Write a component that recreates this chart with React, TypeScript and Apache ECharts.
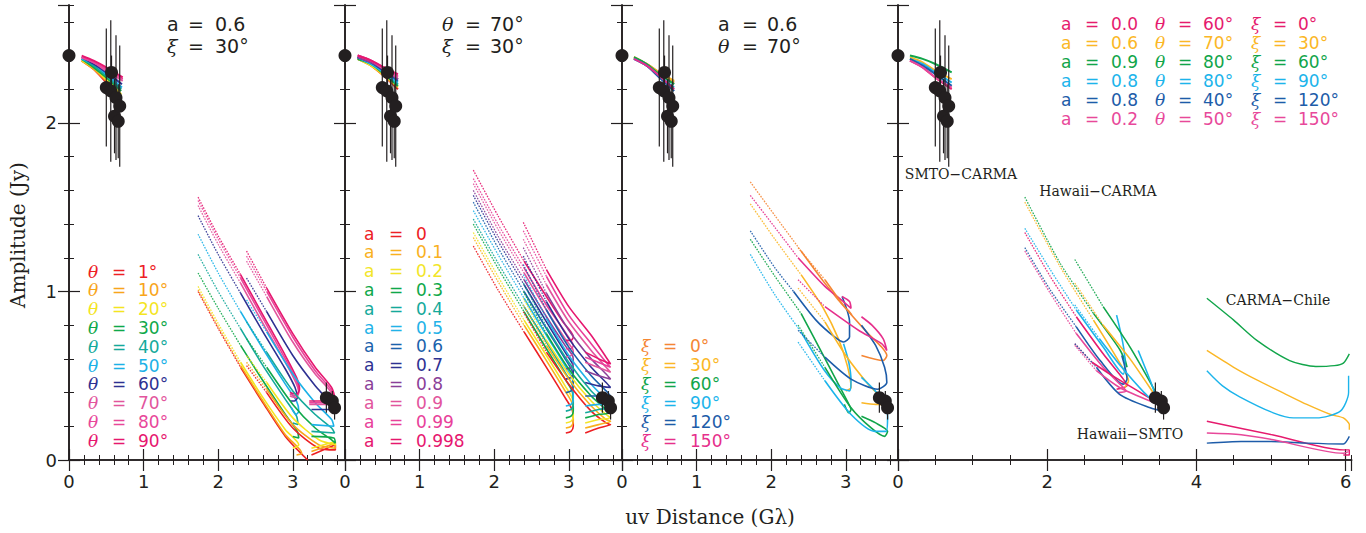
import React, { useEffect, useRef } from "react";
import * as echarts from "echarts";

type Pt = [number, number];

// ---------- observations ----------
const uvObs = [0.0, 0.5, 0.56, 0.57, 0.61, 0.63, 0.66, 0.68, 3.45, 3.53, 3.56];
const ampObs = [2.4, 2.21, 2.19, 2.3, 2.04, 2.15, 2.01, 2.1, 0.37, 0.35, 0.31];
const errObs = [0.0, 0.35, 0.42, 0.1, 0.22, 0.37, 0.22, 0.36, 0.09, 0.06, 0.07];

// ---------- panel 1 : theta series ----------
const thetaLabels = ["1°", "10°", "20°", "30°", "40°", "50°", "60°", "70°", "80°", "90°"];
const colors1 = ["#ed2024", "#f8a51b", "#f4e51f", "#0fa84a", "#15a99b", "#1bb1e7", "#2e3192", "#e2559d", "#e8479a", "#e6176f"];
const short1: Pt[][] = [
  [[0.17, 2.37], [0.33, 2.32], [0.5, 2.24], [0.7, 2.15]],
  [[0.17, 2.37], [0.33, 2.32], [0.5, 2.25], [0.7, 2.16]],
  [[0.17, 2.37], [0.33, 2.33], [0.5, 2.26], [0.7, 2.17]],
  [[0.17, 2.38], [0.33, 2.33], [0.5, 2.27], [0.7, 2.19]],
  [[0.17, 2.38], [0.33, 2.34], [0.5, 2.28], [0.7, 2.2]],
  [[0.17, 2.38], [0.33, 2.35], [0.5, 2.29], [0.71, 2.21]],
  [[0.17, 2.39], [0.33, 2.35], [0.5, 2.3], [0.71, 2.23]],
  [[0.17, 2.39], [0.33, 2.36], [0.5, 2.31], [0.72, 2.25]],
  [[0.17, 2.39], [0.33, 2.36], [0.5, 2.32], [0.72, 2.26]],
  [[0.17, 2.4], [0.33, 2.37], [0.5, 2.33], [0.72, 2.27]],
];
const hcDot1: Pt[][] = [
  [[1.73, 1.0], [2.0, 0.78], [2.3, 0.55]],
  [[1.73, 1.01], [2.0, 0.79], [2.3, 0.56]],
  [[1.73, 1.03], [2.0, 0.81], [2.3, 0.58]],
  [[1.73, 1.11], [2.0, 0.9], [2.3, 0.68]],
  [[1.73, 1.22], [2.0, 1.0], [2.3, 0.78]],
  [[1.73, 1.34], [2.0, 1.11], [2.3, 0.88]],
  [[1.73, 1.45], [2.0, 1.22], [2.3, 0.99]],
  [[1.73, 1.51], [2.0, 1.28], [2.3, 1.05]],
  [[1.73, 1.54], [2.0, 1.31], [2.3, 1.08]],
  [[1.73, 1.56], [2.0, 1.33], [2.3, 1.1]],
];
const hcSol1: Pt[][] = [
  [[2.3, 0.55], [2.6, 0.34], [2.9, 0.14], [3.2, 0.0]],
  [[2.3, 0.56], [2.6, 0.35], [2.9, 0.15], [3.12, 0.04], [3.05, 0.03]],
  [[2.3, 0.58], [2.6, 0.37], [2.9, 0.18], [3.08, 0.09], [3.0, 0.07]],
  [[2.3, 0.68], [2.6, 0.47], [2.9, 0.27], [3.06, 0.17], [3.08, 0.13], [3.0, 0.14]],
  [[2.3, 0.78], [2.6, 0.56], [2.9, 0.36], [3.05, 0.26], [3.07, 0.21], [3.0, 0.22]],
  [[2.3, 0.88], [2.6, 0.66], [2.9, 0.45], [3.05, 0.35], [3.08, 0.29], [3.04, 0.27], [2.98, 0.31]],
  [[2.3, 0.99], [2.6, 0.76], [2.9, 0.54], [3.03, 0.43], [3.06, 0.37], [3.02, 0.35], [2.96, 0.35]],
  [[2.3, 1.05], [2.6, 0.81], [2.9, 0.58], [3.04, 0.46], [3.08, 0.4], [3.04, 0.37], [2.96, 0.38]],
  [[2.3, 1.08], [2.6, 0.84], [2.9, 0.6], [3.04, 0.48], [3.08, 0.41], [3.04, 0.38], [2.96, 0.39]],
  [[2.3, 1.1], [2.6, 0.86], [2.9, 0.62], [3.05, 0.49], [3.09, 0.42], [3.05, 0.39], [2.96, 0.4]],
];
const hsDot1: Pt[][] = [
  [[2.38, 0.56], [2.65, 0.4]],
  [[2.38, 0.58], [2.65, 0.42]],
  [[2.38, 0.62], [2.65, 0.46]],
  [[2.38, 0.72], [2.65, 0.55]],
  [[2.38, 0.82], [2.65, 0.64]],
  [[2.38, 0.95], [2.65, 0.76]],
  [[2.38, 1.08], [2.65, 0.88]],
  [[2.38, 1.18], [2.65, 0.97]],
  [[2.38, 1.21], [2.65, 1.0]],
  [[2.38, 1.24], [2.65, 1.02]],
];
const hsSol1: Pt[][] = [
  [[2.65, 0.4], [3.0, 0.19], [3.35, 0.07], [3.57, 0.06], [3.57, 0.09], [3.25, 0.03]],
  [[2.65, 0.42], [3.0, 0.21], [3.35, 0.09], [3.57, 0.07], [3.57, 0.1], [3.25, 0.05]],
  [[2.65, 0.46], [3.0, 0.25], [3.35, 0.12], [3.57, 0.09], [3.57, 0.11], [3.25, 0.07]],
  [[2.65, 0.55], [3.0, 0.33], [3.3, 0.19], [3.52, 0.12], [3.57, 0.1], [3.55, 0.13], [3.25, 0.14]],
  [[2.65, 0.64], [3.0, 0.41], [3.3, 0.27], [3.52, 0.19], [3.56, 0.16], [3.25, 0.17]],
  [[2.65, 0.76], [3.0, 0.51], [3.3, 0.34], [3.52, 0.24], [3.55, 0.2], [3.25, 0.21]],
  [[2.65, 0.88], [3.0, 0.62], [3.3, 0.44], [3.48, 0.35], [3.52, 0.3], [3.25, 0.3]],
  [[2.65, 0.97], [3.0, 0.7], [3.3, 0.51], [3.5, 0.41], [3.54, 0.35], [3.5, 0.33], [3.22, 0.33]],
  [[2.65, 1.0], [3.0, 0.73], [3.3, 0.53], [3.51, 0.42], [3.55, 0.36], [3.5, 0.34], [3.22, 0.34]],
  [[2.65, 1.02], [3.0, 0.75], [3.3, 0.55], [3.52, 0.43], [3.56, 0.37], [3.5, 0.35], [3.22, 0.35]],
];

// ---------- panel 2 : spin series ----------
const spinLabels = ["0", "0.1", "0.2", "0.3", "0.4", "0.5", "0.6", "0.7", "0.8", "0.9", "0.99", "0.998"];
const colors2 = ["#ed2024", "#f9b11f", "#f2e52a", "#0fa84a", "#15a99b", "#22b2e8", "#1b62ac", "#2e3192", "#8b3f98", "#e2559d", "#e8419a", "#e6176f"];
const short2: Pt[][] = [
  [[0.17, 2.38], [0.35, 2.34], [0.52, 2.28], [0.71, 2.2]],
  [[0.17, 2.38], [0.35, 2.34], [0.52, 2.28], [0.71, 2.21]],
  [[0.17, 2.38], [0.35, 2.34], [0.52, 2.29], [0.71, 2.22]],
  [[0.17, 2.38], [0.35, 2.35], [0.52, 2.29], [0.71, 2.22]],
  [[0.17, 2.39], [0.35, 2.35], [0.52, 2.3], [0.71, 2.23]],
  [[0.17, 2.39], [0.35, 2.35], [0.52, 2.3], [0.71, 2.24]],
  [[0.17, 2.39], [0.35, 2.36], [0.52, 2.31], [0.71, 2.25]],
  [[0.17, 2.39], [0.35, 2.36], [0.52, 2.31], [0.71, 2.26]],
  [[0.17, 2.39], [0.35, 2.36], [0.52, 2.32], [0.71, 2.26]],
  [[0.17, 2.4], [0.35, 2.37], [0.52, 2.32], [0.71, 2.27]],
  [[0.17, 2.4], [0.35, 2.37], [0.52, 2.33], [0.71, 2.28]],
  [[0.17, 2.4], [0.35, 2.37], [0.52, 2.33], [0.71, 2.29]],
];
const hcDot2: Pt[][] = [
  [[1.72, 1.27], [2.05, 1.01], [2.4, 0.76]],
  [[1.72, 1.32], [2.05, 1.06], [2.4, 0.8]],
  [[1.72, 1.35], [2.05, 1.09], [2.4, 0.83]],
  [[1.72, 1.4], [2.05, 1.14], [2.4, 0.88]],
  [[1.72, 1.43], [2.05, 1.17], [2.4, 0.91]],
  [[1.72, 1.48], [2.05, 1.22], [2.4, 0.96]],
  [[1.72, 1.53], [2.05, 1.26], [2.4, 1.0]],
  [[1.72, 1.57], [2.05, 1.3], [2.4, 1.04]],
  [[1.72, 1.6], [2.05, 1.33], [2.4, 1.07]],
  [[1.72, 1.64], [2.05, 1.37], [2.4, 1.11]],
  [[1.72, 1.67], [2.05, 1.4], [2.4, 1.14]],
  [[1.72, 1.72], [2.05, 1.45], [2.4, 1.18]],
];
const hcSol2: Pt[][] = [
  [[2.4, 0.76], [2.7, 0.55], [2.95, 0.37], [3.05, 0.29], [3.06, 0.2], [3.03, 0.17], [2.96, 0.16]],
  [[2.4, 0.8], [2.7, 0.59], [2.95, 0.41], [3.05, 0.33], [3.06, 0.23], [3.03, 0.2], [2.96, 0.19]],
  [[2.4, 0.83], [2.7, 0.62], [2.95, 0.44], [3.05, 0.36], [3.06, 0.26], [3.03, 0.23], [2.96, 0.22]],
  [[2.4, 0.88], [2.7, 0.66], [2.95, 0.48], [3.05, 0.4], [3.06, 0.29], [3.03, 0.26], [2.96, 0.25]],
  [[2.4, 0.91], [2.7, 0.7], [2.95, 0.52], [3.05, 0.44], [3.06, 0.33], [3.03, 0.3], [2.96, 0.29]],
  [[2.4, 0.96], [2.7, 0.74], [2.95, 0.56], [3.05, 0.48], [3.06, 0.36], [3.03, 0.33], [2.96, 0.32]],
  [[2.4, 1.0], [2.7, 0.78], [2.95, 0.6], [3.05, 0.52], [3.06, 0.44], [3.03, 0.41], [2.96, 0.4]],
  [[2.4, 1.04], [2.7, 0.82], [2.95, 0.64], [3.05, 0.57], [3.06, 0.52], [3.03, 0.49], [2.96, 0.48]],
  [[2.4, 1.07], [2.7, 0.85], [2.95, 0.68], [3.05, 0.62], [3.06, 0.58], [3.03, 0.55], [2.96, 0.54]],
  [[2.4, 1.11], [2.7, 0.89], [2.95, 0.72], [3.05, 0.66], [3.06, 0.64], [3.03, 0.62], [2.96, 0.61]],
  [[2.4, 1.14], [2.7, 0.92], [2.95, 0.76], [3.04, 0.7], [3.06, 0.68], [3.03, 0.66], [2.96, 0.66]],
  [[2.4, 1.18], [2.7, 0.97], [2.92, 0.82], [3.03, 0.76], [3.06, 0.73], [3.03, 0.71], [2.96, 0.71]],
];
const hsDot2: Pt[][] = [
  [[2.39, 0.88], [2.7, 0.64]],
  [[2.39, 0.92], [2.7, 0.68]],
  [[2.39, 0.96], [2.7, 0.71]],
  [[2.39, 1.0], [2.7, 0.75]],
  [[2.39, 1.05], [2.7, 0.79]],
  [[2.39, 1.1], [2.7, 0.84]],
  [[2.39, 1.16], [2.7, 0.89]],
  [[2.39, 1.21], [2.7, 0.94]],
  [[2.39, 1.26], [2.7, 0.99]],
  [[2.39, 1.31], [2.7, 1.04]],
  [[2.39, 1.36], [2.7, 1.09]],
  [[2.39, 1.41], [2.7, 1.13]],
];
const hsSol2: Pt[][] = [
  [[2.7, 0.64], [3.0, 0.45], [3.3, 0.29], [3.5, 0.22], [3.56, 0.21], [3.4, 0.19], [3.22, 0.16]],
  [[2.7, 0.68], [3.0, 0.48], [3.3, 0.32], [3.5, 0.24], [3.56, 0.23], [3.4, 0.21], [3.22, 0.19]],
  [[2.7, 0.71], [3.0, 0.51], [3.3, 0.35], [3.5, 0.27], [3.56, 0.25], [3.4, 0.24], [3.22, 0.22]],
  [[2.7, 0.75], [3.0, 0.54], [3.3, 0.38], [3.5, 0.3], [3.56, 0.28], [3.4, 0.27], [3.22, 0.25]],
  [[2.7, 0.79], [3.0, 0.58], [3.3, 0.41], [3.5, 0.33], [3.56, 0.31], [3.4, 0.3], [3.22, 0.28]],
  [[2.7, 0.84], [3.0, 0.62], [3.3, 0.45], [3.5, 0.36], [3.56, 0.33], [3.4, 0.33], [3.22, 0.32]],
  [[2.7, 0.89], [3.0, 0.67], [3.3, 0.5], [3.5, 0.41], [3.56, 0.38], [3.4, 0.38], [3.22, 0.38]],
  [[2.7, 0.94], [3.0, 0.72], [3.3, 0.55], [3.5, 0.46], [3.56, 0.43], [3.4, 0.44], [3.22, 0.46]],
  [[2.7, 0.99], [3.0, 0.77], [3.3, 0.6], [3.5, 0.51], [3.56, 0.48], [3.4, 0.5], [3.22, 0.53]],
  [[2.7, 1.04], [3.0, 0.82], [3.3, 0.65], [3.5, 0.55], [3.56, 0.52], [3.45, 0.54], [3.22, 0.58]],
  [[2.7, 1.09], [3.0, 0.86], [3.3, 0.69], [3.5, 0.58], [3.56, 0.55], [3.45, 0.57], [3.22, 0.61]],
  [[2.7, 1.13], [3.0, 0.91], [3.3, 0.74], [3.5, 0.61], [3.56, 0.57], [3.45, 0.59], [3.22, 0.64]],
];

// ---------- panel 3 : position-angle series ----------
const xiLabels = ["0°", "30°", "60°", "90°", "120°", "150°"];
const colors3 = ["#f58634", "#fbb726", "#11a54a", "#1cb4eb", "#1d5ca9", "#e6308c"];
const short3: Pt[][] = [
  [[0.16, 2.39], [0.33, 2.35], [0.5, 2.3], [0.7, 2.24]],
  [[0.16, 2.39], [0.33, 2.35], [0.5, 2.3], [0.7, 2.25]],
  [[0.16, 2.39], [0.33, 2.35], [0.5, 2.29], [0.7, 2.23]],
  [[0.16, 2.38], [0.33, 2.34], [0.5, 2.28], [0.7, 2.21]],
  [[0.16, 2.38], [0.33, 2.34], [0.5, 2.27], [0.7, 2.19]],
  [[0.16, 2.38], [0.33, 2.34], [0.5, 2.28], [0.7, 2.2]],
];
const hcDot3: Pt[][] = [
  [[1.72, 1.65], [2.05, 1.45], [2.4, 1.24]],
  [[1.72, 1.52], [2.05, 1.31], [2.4, 1.1]],
  [[1.72, 1.31], [2.05, 1.09], [2.4, 0.87]],
  [[1.72, 1.22], [2.05, 0.98], [2.4, 0.76]],
  [[1.72, 1.36], [2.05, 1.14], [2.3, 1.0]],
  [[1.72, 1.57], [2.05, 1.38], [2.36, 1.2]],
];
const hcSol3: Pt[][] = [
  [[2.4, 1.24], [2.7, 1.06], [2.9, 0.95], [3.04, 0.88], [3.08, 0.86], [3.03, 0.89]],
  [[2.4, 1.1], [2.7, 0.9], [2.9, 0.72], [3.02, 0.56], [3.07, 0.43], [3.0, 0.41]],
  [[2.4, 0.87], [2.7, 0.62], [2.9, 0.45], [3.03, 0.34], [3.07, 0.3], [3.04, 0.28], [2.98, 0.33]],
  [[2.4, 0.76], [2.7, 0.54], [2.92, 0.43], [3.05, 0.41], [3.07, 0.47], [3.04, 0.58], [2.97, 0.69]],
  [[2.3, 1.0], [2.6, 0.83], [2.85, 0.73], [2.97, 0.7], [3.05, 0.73], [3.05, 0.82], [2.95, 0.97]],
  [[2.36, 1.2], [2.72, 1.03], [2.94, 0.95], [3.07, 0.9], [3.05, 0.94], [2.95, 0.97]],
];
const hsDot3: Pt[][] = [
  [[2.36, 1.26], [2.72, 1.07]],
  [[2.36, 1.02], [2.72, 0.82]],
  [[2.36, 0.8], [2.72, 0.55]],
  [[2.36, 0.7], [2.72, 0.47]],
  [[2.36, 0.77], [2.72, 0.61]],
  [[2.36, 1.07], [2.72, 0.91]],
];
const hsSol3: Pt[][] = [
  [[2.72, 1.07], [3.0, 0.9], [3.3, 0.75], [3.48, 0.67], [3.55, 0.62], [3.5, 0.59], [3.21, 0.62]],
  [[2.72, 0.82], [3.0, 0.62], [3.3, 0.45], [3.5, 0.36], [3.55, 0.33], [3.4, 0.33], [3.21, 0.34]],
  [[2.72, 0.55], [3.07, 0.31], [3.34, 0.19], [3.52, 0.14], [3.56, 0.17], [3.4, 0.22], [3.21, 0.26]],
  [[2.72, 0.47], [3.07, 0.27], [3.39, 0.17], [3.54, 0.17], [3.56, 0.26], [3.45, 0.38], [3.21, 0.49]],
  [[2.72, 0.61], [3.07, 0.48], [3.43, 0.42], [3.55, 0.46], [3.52, 0.55], [3.4, 0.68], [3.21, 0.8]],
  [[2.72, 0.91], [3.17, 0.77], [3.48, 0.69], [3.55, 0.65], [3.5, 0.72], [3.35, 0.8], [3.21, 0.85]],
];

// ---------- panel 4 : selected models ----------
const modelSpin = ["0.0", "0.6", "0.9", "0.8", "0.8", "0.2"];
const modelTheta = ["60°", "70°", "80°", "80°", "40°", "50°"];
const modelXi = ["0°", "30°", "60°", "90°", "120°", "150°"];
const colors4 = ["#e61b6e", "#fbb726", "#11a54a", "#1cb4eb", "#1d5ca9", "#e8489a"];
const short4: Pt[][] = [
  [[0.16, 2.37], [0.33, 2.33], [0.5, 2.27], [0.72, 2.2]],
  [[0.16, 2.39], [0.33, 2.36], [0.5, 2.31], [0.72, 2.26]],
  [[0.16, 2.4], [0.33, 2.38], [0.5, 2.35], [0.72, 2.3]],
  [[0.16, 2.38], [0.33, 2.35], [0.5, 2.3], [0.72, 2.24]],
  [[0.16, 2.38], [0.33, 2.34], [0.5, 2.29], [0.72, 2.22]],
  [[0.16, 2.37], [0.33, 2.33], [0.5, 2.27], [0.72, 2.21]],
];
const hcDot4: Pt[][] = [
  [[1.7, 1.35], [2.04, 1.09], [2.39, 0.85]],
  [[1.7, 1.53], [2.17, 1.15], [2.62, 0.83]],
  [[1.7, 1.56], [2.17, 1.17], [2.62, 0.87]],
  [[1.7, 1.375], [2.04, 1.13], [2.39, 0.89]],
  [[1.7, 1.26], [2.04, 1.01], [2.39, 0.79]],
  [[1.7, 1.24], [2.04, 0.99], [2.39, 0.75]],
];
const hcSol4: Pt[][] = [
  [[2.39, 0.85], [2.75, 0.63], [3.02, 0.48], [3.07, 0.44], [2.93, 0.42]],
  [[2.62, 0.83], [2.98, 0.57], [3.09, 0.47], [3.04, 0.43]],
  [[2.62, 0.87], [2.98, 0.65], [3.07, 0.55], [3.03, 0.62]],
  [[2.39, 0.89], [2.75, 0.67], [3.02, 0.51], [3.04, 0.6], [2.93, 0.86]],
  [[2.39, 0.79], [2.71, 0.59], [3.02, 0.45], [3.07, 0.48], [3.0, 0.62]],
  [[2.39, 0.75], [2.75, 0.55], [3.02, 0.43], [3.06, 0.41], [2.95, 0.4]],
];
const hsDot4: Pt[][] = [
  [[2.37, 0.69], [2.6, 0.58]],
  [[2.37, 1.05], [2.75, 0.8]],
  [[2.37, 1.19], [2.75, 0.91]],
  [[2.37, 0.92], [2.7, 0.72]],
  [[2.37, 0.69], [2.66, 0.55]],
  [[2.37, 0.68], [2.66, 0.53]],
];
const hsSol4: Pt[][] = [
  [[2.6, 0.58], [2.84, 0.51], [3.29, 0.39], [3.51, 0.33]],
  [[2.75, 0.8], [3.11, 0.6], [3.42, 0.4], [3.52, 0.33]],
  [[2.75, 0.91], [3.11, 0.67], [3.42, 0.43], [3.51, 0.35]],
  [[2.7, 0.72], [3.0, 0.55], [3.3, 0.4], [3.5, 0.32], [3.4, 0.45], [3.22, 0.65]],
  [[2.66, 0.55], [2.97, 0.39], [3.38, 0.31], [3.56, 0.29]],
  [[2.66, 0.53], [2.97, 0.43], [3.38, 0.35], [3.51, 0.33]],
];
const chile4: Pt[][] = [
  [[4.14, 0.23], [5.03, 0.148], [5.97, 0.06], [6.05, 0.06], [6.05, 0.03], [5.97, 0.03]],
  [[4.14, 0.65], [4.5, 0.55], [4.81, 0.475], [5.2, 0.39], [5.48, 0.33], [5.8, 0.27], [5.97, 0.25], [6.05, 0.21], [6.05, 0.18]],
  [[4.14, 0.96], [4.5, 0.83], [4.81, 0.71], [5.25, 0.59], [5.6, 0.555], [5.85, 0.56], [5.97, 0.575], [6.05, 0.63]],
  [[4.14, 0.53], [4.35, 0.44], [4.58, 0.375], [5.03, 0.28], [5.3, 0.25], [5.61, 0.25], [5.93, 0.29], [6.04, 0.4], [6.04, 0.5]],
  [[4.14, 0.1], [4.6, 0.11], [5.0, 0.11], [5.48, 0.1], [5.97, 0.095], [6.05, 0.14]],
  [[4.14, 0.16], [4.6, 0.15], [5.03, 0.12], [5.97, 0.04], [6.04, 0.05]],
];

const yTickLabels = ["0", "1", "2"];

// ---------- layout ----------
const INK = "#231f20";
const SANS = "DejaVu Sans";
const SERIF = "DejaVu Serif";
const gridLeft = [69, 345, 622, 898];
const xMax = [3.7, 3.71, 3.7, 6.08];
const xMajor = [1, 1, 1, 2];
const xMinor = [0.2, 0.2, 0.2, 0.5];
const GRID_TOP = 5;
const GRID_H = 455;
const PX_PER_UNIT = 74.6;
const Y_MAX = 2.7;
const LEG = 17;

function buildOption() {
  const grid: any[] = [];
  const xAxis: any[] = [];
  const yAxis: any[] = [];
  const series: any[] = [];

  for (let g = 0; g < 4; g++) {
    grid.push({ left: gridLeft[g], top: GRID_TOP, width: xMax[g] * PX_PER_UNIT, height: GRID_H, containLabel: false });
    const common = { gridIndex: g, type: "value", min: 0, max: xMax[g], splitLine: { show: false } };
    const line = { show: true, lineStyle: { color: INK, width: 1.6 } };
    xAxis.push({
      ...common, position: "bottom", interval: xMajor[g], axisLine: line,
      axisTick: { show: true, inside: true, length: 11, lineStyle: { color: INK, width: 1.2 } },
      axisLabel: { show: true, showMaxLabel: false, margin: 12, color: INK, fontSize: 18, fontFamily: SANS },
    });
    xAxis.push({
      ...common, position: "bottom", interval: xMinor[g], axisLine: { show: false },
      axisTick: { show: true, inside: true, length: 5, lineStyle: { color: INK, width: 1 } },
      axisLabel: { show: false },
    });
    xAxis.push({
      ...common, position: "top", interval: xMajor[g], axisLine: line,
      axisTick: { show: true, inside: true, length: 11, lineStyle: { color: INK, width: 1.2 } },
      axisLabel: { show: false },
    });
    xAxis.push({
      ...common, position: "top", interval: xMinor[g], axisLine: { show: false },
      axisTick: { show: true, inside: true, length: 5, lineStyle: { color: INK, width: 1 } },
      axisLabel: { show: false },
    });
    const ycommon = { gridIndex: g, type: "value", min: 0, max: Y_MAX, splitLine: { show: false } };
    yAxis.push({
      ...ycommon, position: "left", interval: 1, axisLine: line,
      axisTick: { show: true, inside: true, length: 11, lineStyle: { color: INK, width: 1.2 } },
      axisLabel: {
        show: g === 0, showMaxLabel: false, margin: 12, color: INK, fontSize: 18, fontFamily: SANS,
        formatter: (v: number) => yTickLabels[Math.round(v)] ?? "",
      },
    });
    yAxis.push({
      ...ycommon, position: "left", interval: 0.2, axisLine: { show: false },
      axisTick: { show: true, inside: true, length: 5, lineStyle: { color: INK, width: 1 } },
      axisLabel: { show: false },
    });
    yAxis.push({
      ...ycommon, position: "right", interval: 1, axisLine: line,
      axisTick: { show: true, inside: true, length: 11, lineStyle: { color: INK, width: 1.2 } },
      axisLabel: { show: false },
    });
    yAxis.push({
      ...ycommon, position: "right", interval: 0.2, axisLine: { show: false },
      axisTick: { show: true, inside: true, length: 5, lineStyle: { color: INK, width: 1 } },
      axisLabel: { show: false },
    });
  }

  const addCurves = (g: number, curves: Pt[][], colors: string[], dotted: boolean, width: number) => {
    curves.forEach((pts, i) => {
      series.push({
        type: "line",
        xAxisIndex: g * 4,
        yAxisIndex: g * 4,
        data: pts,
        showSymbol: false,
        symbol: "none",
        smooth: 0.25,
        silent: true,
        z: 2,
        lineStyle: { color: colors[i], width, type: dotted ? [1.6, 1.3] : "solid", opacity: dotted ? 0.9 : 1 },
      });
    });
  };

  const panels = [
    { short: short1, hcD: hcDot1, hcS: hcSol1, hsD: hsDot1, hsS: hsSol1, colors: colors1 },
    { short: short2, hcD: hcDot2, hcS: hcSol2, hsD: hsDot2, hsS: hsSol2, colors: colors2 },
    { short: short3, hcD: hcDot3, hcS: hcSol3, hsD: hsDot3, hsS: hsSol3, colors: colors3 },
    { short: short4, hcD: hcDot4, hcS: hcSol4, hsD: hsDot4, hsS: hsSol4, colors: colors4 },
  ];
  panels.forEach((p, g) => {
    addCurves(g, p.short, p.colors, false, 2);
    addCurves(g, p.hcD, p.colors, true, 1.3);
    addCurves(g, p.hcS, p.colors, false, 1.6);
    addCurves(g, p.hsD, p.colors, true, 1.3);
    addCurves(g, p.hsS, p.colors, false, 1.6);
  });
  addCurves(3, chile4, colors4, false, 1.4);

  const pts = uvObs.map((u, i) => [u, ampObs[i]]);
  const bars = uvObs
    .map((u, i) => [u, ampObs[i] - errObs[i], ampObs[i] + errObs[i]])
    .filter((_, i) => errObs[i] > 0);
  for (let g = 0; g < 4; g++) {
    series.push({
      type: "custom",
      xAxisIndex: g * 4,
      yAxisIndex: g * 4,
      data: bars,
      encode: { x: 0, y: [1, 2] },
      silent: true,
      z: 3,
      clip: false,
      renderItem: (_params: any, api: any) => {
        const a = api.coord([api.value(0), api.value(1)]);
        const b = api.coord([api.value(0), api.value(2)]);
        return {
          type: "line",
          shape: { x1: a[0], y1: a[1], x2: b[0], y2: b[1] },
          style: { stroke: INK, lineWidth: 1.2 },
        };
      },
    });
    series.push({
      type: "scatter",
      xAxisIndex: g * 4,
      yAxisIndex: g * 4,
      data: pts,
      symbol: "circle",
      symbolSize: 13,
      silent: true,
      clip: false,
      z: 4,
      itemStyle: { color: INK, opacity: 1 },
    });
  }

  // ---------- texts ----------
  const graphic: any[] = [];
  const txt = (x: number, y: number, text: string, color: string, size = 19, italic = false, family = SANS, align = "left") =>
    graphic.push({
      type: "text", x, y, z: 20, silent: true,
      style: { text, fill: color, fontSize: size, fontFamily: family, fontStyle: italic ? "italic" : "normal", align, verticalAlign: "middle" },
    });

  // axis titles
  graphic.push({
    type: "text", x: 18, y: 235, rotation: Math.PI / 2, z: 20, silent: true,
    style: { text: "Amplitude (Jy)", fill: INK, fontSize: 20, fontFamily: SERIF, align: "center", verticalAlign: "middle" },
  });
  txt(710, 517, "uv Distance (Gλ)", INK, 20, false, SERIF, "center");

  // panel headers
  txt(167, 24, "a", INK); txt(188, 24, "=", INK); txt(215, 24, "0.6", INK);
  txt(167, 46, "ξ", INK, 19, true, SERIF); txt(188, 46, "=", INK); txt(215, 46, "30°", INK);
  txt(442, 24, "θ", INK, 19, true, SERIF); txt(465, 24, "=", INK); txt(490, 24, "70°", INK);
  txt(442, 46, "ξ", INK, 19, true, SERIF); txt(465, 46, "=", INK); txt(490, 46, "30°", INK);
  txt(718, 24, "a", INK); txt(742, 24, "=", INK); txt(767, 24, "0.6", INK);
  txt(718, 46, "θ", INK, 19, true, SERIF); txt(742, 46, "=", INK); txt(767, 46, "70°", INK);

  // panel legends
  thetaLabels.forEach((l, i) => {
    const y = 271.5 + 18.8 * i;
    txt(88, y, "θ", colors1[i], LEG, true, SERIF); txt(112, y, "=", colors1[i], LEG); txt(138, y, l, colors1[i], LEG);
  });
  spinLabels.forEach((l, i) => {
    const y = 233.5 + 18.82 * i;
    txt(364, y, "a", colors2[i], LEG); txt(389, y, "=", colors2[i], LEG); txt(416, y, l, colors2[i], LEG);
  });
  xiLabels.forEach((l, i) => {
    const y = 346 + 18.9 * i;
    txt(641, y, "ξ", colors3[i], LEG, true, SERIF); txt(663, y, "=", colors3[i], LEG); txt(690, y, l, colors3[i], LEG);
  });
  modelSpin.forEach((s, i) => {
    const y = 24 + 18.9 * i;
    const c = colors4[i];
    txt(1061, y, "a", c, LEG); txt(1085, y, "=", c, LEG); txt(1111, y, s, c, LEG);
    txt(1155, y, "θ", c, LEG, true, SERIF); txt(1178, y, "=", c, LEG); txt(1203, y, modelTheta[i], c, LEG);
    txt(1251, y, "ξ", c, LEG, true, SERIF); txt(1273, y, "=", c, LEG); txt(1298, y, modelXi[i], c, LEG);
  });

  // baseline labels
  txt(961, 174, "SMTO−CARMA", INK, 14, false, SERIF, "center");
  txt(1098, 191, "Hawaii−CARMA", INK, 14, false, SERIF, "center");
  txt(1130, 434, "Hawaii−SMTO", INK, 14, false, SERIF, "center");
  txt(1278, 300, "CARMA−Chile", INK, 14, false, SERIF, "center");

  return { animation: false, backgroundColor: "#ffffff", grid, xAxis, yAxis, series, graphic };
}

export default function App() {
  const ref = useRef<HTMLDivElement>(null);
  useEffect(() => {
    if (!ref.current) return;
    const chart = echarts.init(ref.current, undefined, { renderer: "svg" });
    chart.setOption(buildOption() as any);
    return () => chart.dispose();
  }, []);
  return <div ref={ref} style={{ position: "absolute", left: 0, top: 0, width: 1366, height: 533 }} />;
}
